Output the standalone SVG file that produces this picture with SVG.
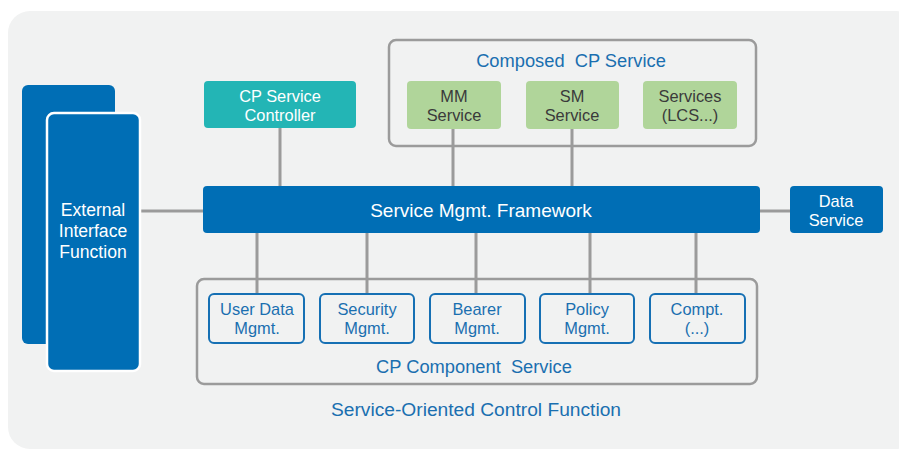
<svg xmlns="http://www.w3.org/2000/svg" width="899" height="450" viewBox="0 0 899 450">
<style>
text{font-family:"Liberation Sans","Noto Sans",Arial,sans-serif;font-size:16.4px;text-anchor:middle;white-space:pre}
.e{font-size:17.6px}
.t{font-size:18.3px}
.f{font-size:19px}
.s{font-size:19.2px}
.w{fill:#ffffff}
.b{fill:#1A6FB0}
.d{fill:#3a3a3a}
.blue{fill:#006EB5}
.conn line{stroke:#9B9B9B;stroke-width:3}
.grp{fill:none;stroke:#9B9B9B;stroke-width:2.5}
.comp{fill:#F1F2F2;stroke:#1670B4;stroke-width:2}
.green{fill:#B0D59A}
</style>
<rect x="8" y="11" width="910" height="438" rx="22" fill="#F1F2F2"/>
<g id="connectors" class="conn">
<line x1="140" y1="211" x2="205" y2="211"/>
<line x1="280" y1="128" x2="280" y2="187"/>
<line x1="453" y1="129" x2="453" y2="187"/>
<line x1="572" y1="129" x2="572" y2="187"/>
<line x1="758" y1="211" x2="792" y2="211"/>
<line x1="257" y1="232" x2="257" y2="295"/>
<line x1="367" y1="232" x2="367" y2="295"/>
<line x1="476" y1="232" x2="476" y2="295"/>
<line x1="590" y1="232" x2="590" y2="295"/>
<line x1="696" y1="232" x2="696" y2="295"/>
</g>
<g id="external-interface">
<rect x="22" y="85" width="93" height="259" rx="6" class="blue"/>
<rect x="47" y="113" width="93" height="258" rx="7" class="blue" stroke="#ffffff" stroke-width="2.5"/>
<text class="w e"><tspan x="93" y="216">External</tspan><tspan x="93" y="237">Interface</tspan><tspan x="93" y="258">Function</tspan></text>
</g>
<g id="cp-service-controller">
<rect x="204" y="81" width="152" height="47" rx="4" fill="#23B5B5"/>
<text class="w"><tspan x="280" y="102">CP Service</tspan><tspan x="280" y="121">Controller</tspan></text>
</g>
<g id="composed-cp-service">
<rect x="389" y="40" width="367" height="106" rx="7" class="grp"/>
<text x="571" y="67" class="b t">Composed  CP Service</text>
</g>
<g id="mm-service">
<rect x="407" y="81" width="94" height="48" rx="4" class="green"/>
<text class="d"><tspan x="454" y="102">MM</tspan><tspan x="454" y="121">Service</tspan></text>
</g>
<g id="sm-service">
<rect x="526" y="81" width="93" height="48" rx="4" class="green"/>
<text class="d"><tspan x="572" y="102">SM</tspan><tspan x="572" y="121">Service</tspan></text>
</g>
<g id="services-lcs">
<rect x="643" y="81" width="94" height="48" rx="4" class="green"/>
<text class="d"><tspan x="690" y="102">Services</tspan><tspan x="690" y="121">(LCS...)</tspan></text>
</g>
<g id="service-mgmt-framework">
<rect x="203" y="186" width="557" height="47" rx="4" class="blue"/>
<text x="481" y="217" class="w f">Service Mgmt. Framework</text>
</g>
<g id="data-service">
<rect x="790" y="186" width="93" height="47" rx="4" class="blue"/>
<text class="w"><tspan x="836" y="207">Data</tspan><tspan x="836" y="226">Service</tspan></text>
</g>
<g id="cp-component-service">
<rect x="197" y="279" width="560" height="105" rx="7" class="grp"/>
<text x="474" y="373" class="b t">CP Component  Service</text>
</g>
<g id="user-data-mgmt">
<rect x="209" y="294" width="95" height="49" rx="5" class="comp"/>
<text class="b"><tspan x="257" y="315">User Data</tspan><tspan x="257" y="334">Mgmt.</tspan></text>
</g>
<g id="security-mgmt">
<rect x="320" y="294" width="94" height="49" rx="5" class="comp"/>
<text class="b"><tspan x="367" y="315">Security</tspan><tspan x="367" y="334">Mgmt.</tspan></text>
</g>
<g id="bearer-mgmt">
<rect x="430" y="294" width="95" height="49" rx="5" class="comp"/>
<text class="b"><tspan x="477" y="315">Bearer</tspan><tspan x="477" y="334">Mgmt.</tspan></text>
</g>
<g id="policy-mgmt">
<rect x="540" y="294" width="94" height="49" rx="5" class="comp"/>
<text class="b"><tspan x="587" y="315">Policy</tspan><tspan x="587" y="334">Mgmt.</tspan></text>
</g>
<g id="compt">
<rect x="650" y="294" width="95" height="49" rx="5" class="comp"/>
<text class="b"><tspan x="697" y="315">Compt.</tspan><tspan x="697" y="334">(...)</tspan></text>
</g>
<g id="service-oriented-control-function">
<text x="476" y="416" class="b s">Service-Oriented Control Function</text>
</g>
</svg>
